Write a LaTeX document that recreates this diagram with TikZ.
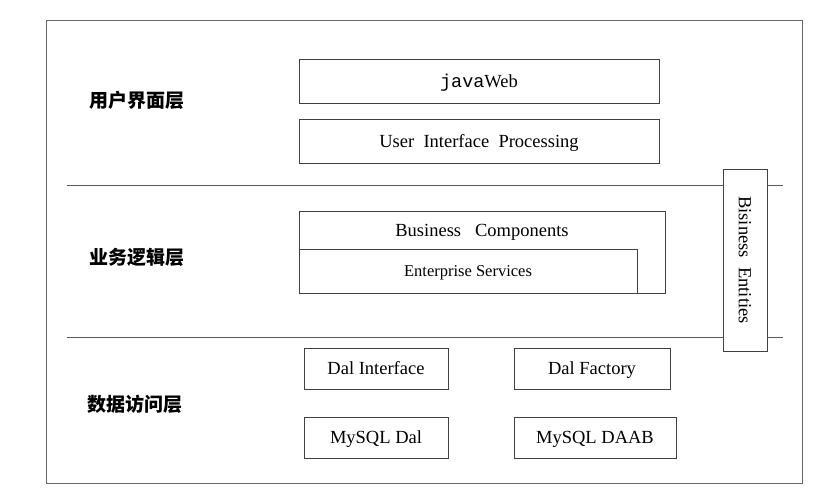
\documentclass[tikz,border=0pt]{standalone}
\usepackage{fontspec}
\setmainfont{Liberation Serif}
\newfontfamily\cjk{Noto Sans CJK SC}
\newfontfamily\monofont{Liberation Mono}

\tikzset{
    layerbox/.style = {draw = black!75, fill = white, line width = 0.8pt, inner sep = 0pt},
    layername/.style = {font = {\cjk\bfseries\fontsize{19}{21}\selectfont}, text = black},
    boxtext/.style = {font = {\fontsize{18.5}{21}\selectfont}, text = black, text height = 12.5pt, text depth = 0pt}
}

\begin{document}
\begin{tikzpicture}[x = 1pt, y = -1pt]
            \useasboundingbox (0, 0) rectangle (830, 490);
            \draw[black!60, line width = 1pt] (46, 20) rectangle (802, 483);

            \node[layerbox, minimum width = 44pt, minimum height = 182pt] (entities) at (745, 260) {};
            \node[boxtext, rotate = -90] (entitiestext) at (745, 260) {Bisiness\ \ Entities};

            \coordinate (divideA) at (67, 185);
            \coordinate (divideB) at (67, 337);
            \coordinate (divideAend) at (783, 185);
            \coordinate (divideBend) at (783, 337);
            \draw[black!65, line width = 0.9pt] (divideA) -- (entities.west |- divideA);
            \draw[black!65, line width = 0.9pt] (entities.east |- divideAend) -- (divideAend);
            \draw[black!65, line width = 0.9pt] (divideB) -- (entities.west |- divideB);
            \draw[black!65, line width = 0.9pt] (entities.east |- divideBend) -- (divideBend);

            \node[layername] (uilayer) at (137, 100) {用户界面层};
            \node[layername] (bllayer) at (137, 257) {业务逻辑层};
            \node[layername] (dalayer) at (135, 404) {数据访问层};

            \node[layerbox, boxtext, minimum width = 360pt, minimum height = 44pt] (javaweb) at (479, 81) {{\monofont java}Web};
            \node[layerbox, boxtext, minimum width = 360pt, minimum height = 44pt] (uiproc) at (479, 141) {User\ \ Interface\ \ Processing};

            \node[layerbox, minimum width = 366pt, minimum height = 82pt] (buscomp) at (482, 252) {};
            \node[boxtext] (buscomptext) at (482, 230) {Business\ \ \ Components};
            \node[layerbox, font = {\fontsize{16.5}{19}\selectfont}, text = black, text height = 11pt, text depth = 0pt, minimum width = 338pt, minimum height = 44pt] (entserv) at (468, 271) {Enterprise Services};

            \node[layerbox, boxtext, minimum width = 144pt, minimum height = 41pt] (dalint) at (376, 368.5) {Dal Interface};
            \node[layerbox, boxtext, minimum width = 156pt, minimum height = 41pt] (dalfac) at (592, 368.5) {Dal Factory};
            \node[layerbox, boxtext, minimum width = 144pt, minimum height = 41pt] (mysqldal) at (376, 437.5) {MySQL Dal};
            \node[layerbox, boxtext, minimum width = 162pt, minimum height = 41pt] (mysqldaab) at (595, 437.5) {MySQL DAAB};
        \end{tikzpicture}
\end{document}
